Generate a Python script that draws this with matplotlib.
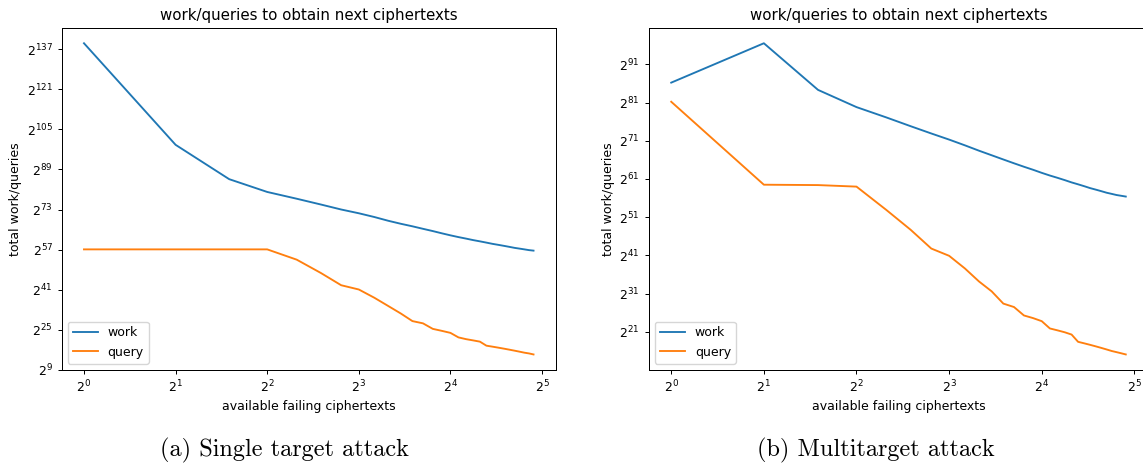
import numpy as np
import matplotlib
matplotlib.use("Agg")
import matplotlib.pyplot as plt
from matplotlib.ticker import FixedLocator, LogFormatterSciNotation

# available failing ciphertexts
n_ct = list(range(1, 31))

# log2 of total work / queries, single target attack
single_work = [139.3, 98.8, 85.1, 80.0, 77.3, 75.0, 73.0, 71.5, 70.0, 68.5,
               67.3, 66.3, 65.3, 64.4, 63.5, 62.7, 62.0, 61.4, 60.8, 60.3,
               59.8, 59.3, 58.9, 58.5, 58.1, 57.7, 57.4, 57.1, 56.8, 56.6]
single_query = [57.1, 57.1, 57.1, 57.1, 53.0, 47.7, 42.8, 41.1, 37.8, 34.5,
                31.5, 28.5, 27.6, 25.4, 24.6, 23.8, 22.0, 21.3, 20.8, 20.3,
                18.7, 18.3, 17.9, 17.5, 17.1, 16.7, 16.3, 15.9, 15.6, 15.2]

# log2 of total work / queries, multitarget attack
multi_work = [86.2, 96.5, 84.3, 79.8, 77.1, 74.8, 72.9, 71.3, 69.8, 68.4,
              67.2, 66.1, 65.1, 64.2, 63.4, 62.6, 61.9, 61.3, 60.7, 60.1,
              59.6, 59.1, 58.6, 58.2, 57.8, 57.4, 57.1, 56.8, 56.6, 56.4]
multi_query = [81.2, 59.5, 59.4, 59.0, 52.9, 47.7, 42.8, 40.9, 37.6, 34.2,
               31.6, 28.4, 27.5, 25.3, 24.6, 23.8, 21.9, 21.4, 20.9, 20.3,
               18.4, 18.0, 17.6, 17.2, 16.8, 16.4, 16.0, 15.7, 15.4, 15.1]

single_yticks = [9, 25, 41, 57, 73, 89, 105, 121, 137]
multi_yticks = [21, 31, 41, 51, 61, 71, 81, 91]

title = "work/queries to obtain next ciphertexts"
xlabel = "available failing ciphertexts"
ylabel = "total work/queries"
captions = ["(a) Single target attack", "(b) Multitarget attack"]

W, H = 1143, 463
fig = plt.figure(figsize=(W / 100, H / 100), dpi=100)

def px_axes(x0, x1, y_top, y_bot):
    return [x0 / W, 1 - y_bot / H, (x1 - x0) / W, (y_bot - y_top) / H]

ax1 = fig.add_axes(px_axes(61.5, 556, 27.7, 370))
ax2 = fig.add_axes(px_axes(648.5, 1148.5, 27.7, 370))

panels = [
    (ax1, single_work, single_query, single_yticks),
    (ax2, multi_work, multi_query, multi_yticks),
]

for ax, work, query, yt in panels:
    x = np.array(n_ct, dtype=float)
    ax.plot(x, 2.0 ** np.array(work), color="#1f77b4", lw=1.35, label="work")
    ax.plot(x, 2.0 ** np.array(query), color="#ff7f0e", lw=1.35, label="query")
    ax.set_xscale("log", base=2)
    ax.set_yscale("log", base=2)
    ax.yaxis.set_major_locator(FixedLocator([2.0 ** t for t in yt]))
    ax.yaxis.set_major_formatter(LogFormatterSciNotation(base=2))
    ax.yaxis.set_minor_locator(FixedLocator([]))
    ax.xaxis.set_minor_locator(FixedLocator([]))
    ax.set_title(title, fontsize=10.8, pad=5.4)
    ax.set_xlabel(xlabel, fontsize=9, labelpad=3.2)
    ax.set_ylabel(ylabel, fontsize=9, labelpad=3.2)
    ax.tick_params(labelsize=9, length=3.2, width=0.72, pad=3.2)
    for sp in ax.spines.values():
        sp.set_linewidth(0.72)
    ax.legend(loc="lower left", fontsize=9)

fig.text(284 / W, 1 - 450 / H, captions[0], fontsize=17.5, family="cmr10",
         ha="center", va="center")
fig.text(876 / W, 1 - 450 / H, captions[1], fontsize=17.5, family="cmr10",
         ha="center", va="center")

fig.savefig("out.png", dpi=100)
